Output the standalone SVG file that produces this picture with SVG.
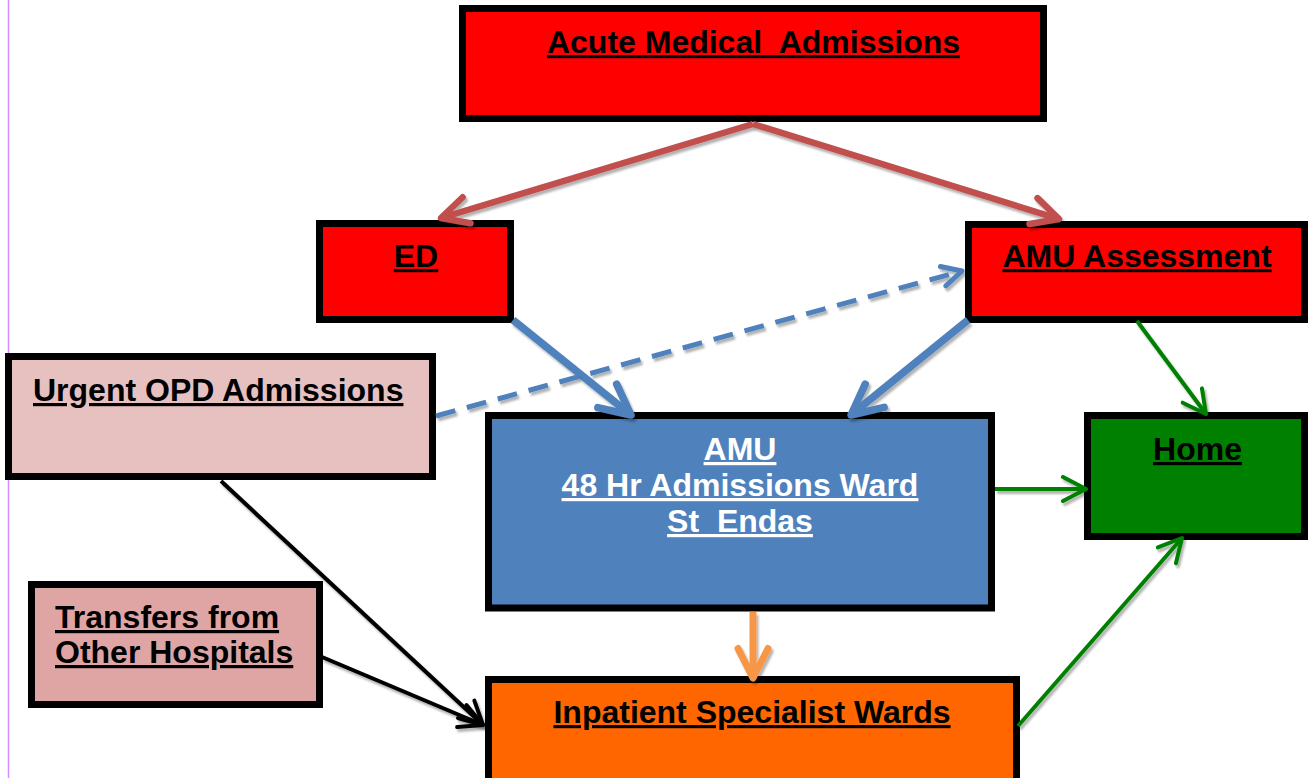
<svg xmlns="http://www.w3.org/2000/svg" width="1309" height="778" viewBox="0 0 1309 778">
  <style>
    .box { stroke: #000; stroke-width: 7; }
    .t { font-family: "Liberation Sans", Arial, sans-serif; font-weight: bold; font-size: 32px; text-decoration: underline; fill: #000; white-space: pre; }
    .tw { fill: #fff; }
    .c { fill: none; filter: url(#sh); }
    .red { stroke: #C0504D; stroke-width: 6.5; marker-end: url(#mRed); }
    .blue { stroke: #4F81BD; stroke-width: 7.5; marker-end: url(#mBlue); }
    .dash { stroke: #4F81BD; stroke-width: 5; stroke-dasharray: 20 12; marker-end: url(#mDash); }
    .green { stroke: #008000; stroke-width: 4; marker-end: url(#mGreen); }
    .black { stroke: #000; stroke-width: 4; marker-end: url(#mBlack); }
    .orange { stroke: #F79646; stroke-width: 7; marker-end: url(#mOrange); }
    .mk { fill: none; stroke-linecap: round; stroke-linejoin: round; }
  </style>
  <defs>
    <filter id="sh" filterUnits="userSpaceOnUse" x="0" y="0" width="1309" height="778">
      <feDropShadow dx="2" dy="3" stdDeviation="1" flood-color="#000" flood-opacity="0.3"/>
    </filter>
    <marker id="mRed" markerUnits="userSpaceOnUse" refX="0" refY="0" markerWidth="1" markerHeight="1" orient="auto" overflow="visible">
      <path class="mk" d="M-26.7,-13.6 L0,0 L-26.7,13.6" stroke="#C0504D" stroke-width="6.5"/>
    </marker>
    <marker id="mBlue" markerUnits="userSpaceOnUse" refX="0" refY="0" markerWidth="1" markerHeight="1" orient="auto" overflow="visible">
      <path class="mk" d="M-30.5,-15 L0,0 L-30.5,15" stroke="#4F81BD" stroke-width="7.5"/>
    </marker>
    <marker id="mDash" markerUnits="userSpaceOnUse" refX="0" refY="0" markerWidth="1" markerHeight="1" orient="auto" overflow="visible">
      <path class="mk" d="M-19.6,-10 L0,0 L-19.6,10" stroke="#4F81BD" stroke-width="5"/>
    </marker>
    <marker id="mGreen" markerUnits="userSpaceOnUse" refX="0" refY="0" markerWidth="1" markerHeight="1" orient="auto" overflow="visible">
      <path class="mk" d="M-23,-12 L0,0 L-23,12" stroke="#008000" stroke-width="4"/>
    </marker>
    <marker id="mBlack" markerUnits="userSpaceOnUse" refX="0" refY="0" markerWidth="1" markerHeight="1" orient="auto" overflow="visible">
      <path class="mk" d="M-23,-12 L0,0 L-23,12" stroke="#000" stroke-width="4"/>
    </marker>
    <marker id="mOrange" markerUnits="userSpaceOnUse" refX="0" refY="0" markerWidth="1" markerHeight="1" orient="auto" overflow="visible">
      <path class="mk" d="M-29.5,-15 L0,0 L-29.5,15" stroke="#F79646" stroke-width="7"/>
    </marker>
  </defs>

  <rect x="0" y="0" width="1309" height="778" fill="#fff"/>
  <line x1="8.5" y1="0" x2="8.5" y2="778" stroke="#D48CFF" stroke-width="1.5"/>

  <g id="acute">
    <rect class="box" x="462.5" y="8.5" width="581" height="110" fill="#FF0000"/>
    <text class="t" x="753.5" y="53" text-anchor="middle">Acute Medical  Admissions</text>
  </g>
  <g id="ed">
    <rect class="box" x="319.5" y="223.5" width="191" height="96" fill="#FF0000"/>
    <text class="t" x="416" y="267" text-anchor="middle">ED</text>
  </g>
  <g id="amu-assessment">
    <rect class="box" x="968.5" y="224.5" width="336" height="95" fill="#FF0000"/>
    <text class="t" x="1137" y="267" text-anchor="middle">AMU Assessment</text>
  </g>
  <g id="urgent-opd">
    <rect class="box" x="8.5" y="356.5" width="424" height="120" fill="#E6C1C0"/>
    <text class="t" x="33" y="401">Urgent OPD Admissions</text>
  </g>
  <g id="amu">
    <rect class="box" x="488.5" y="415.5" width="503" height="192.5" fill="#4F81BD"/>
    <text class="t tw" x="740" y="460" text-anchor="middle">AMU</text>
    <text class="t tw" x="740" y="496" text-anchor="middle">48 Hr Admissions Ward</text>
    <text class="t tw" x="740" y="532" text-anchor="middle">St  Endas</text>
  </g>
  <g id="home">
    <rect class="box" x="1087.5" y="415.5" width="217" height="121" fill="#008000"/>
    <text class="t" x="1197.5" y="460" text-anchor="middle">Home</text>
  </g>
  <g id="transfers">
    <rect class="box" x="31.5" y="584.5" width="288" height="120" fill="#DEA5A4"/>
    <text class="t" x="55" y="628">Transfers from</text>
    <text class="t" x="55" y="663">Other Hospitals</text>
  </g>
  <g id="inpatient">
    <rect class="box" x="488.5" y="679.5" width="528" height="110" fill="#FF6600"/>
    <text class="t" x="752" y="723" text-anchor="middle">Inpatient Specialist Wards</text>
  </g>

  <g id="connectors">
    <line class="c red" x1="753" y1="124" x2="441" y2="218"/>
    <line class="c red" x1="753" y1="124" x2="1059" y2="219"/>
    <line class="c blue" x1="513" y1="320" x2="631" y2="415"/>
    <line class="c blue" x1="968" y1="320" x2="851" y2="415"/>
    <line class="c dash" x1="436" y1="416" x2="962" y2="271"/>
    <line class="c green" x1="1137" y1="321" x2="1206" y2="414"/>
    <line class="c green" x1="995" y1="489" x2="1086" y2="489"/>
    <line class="c green" x1="1018" y1="726" x2="1182" y2="538"/>
    <line class="c orange" x1="753" y1="612" x2="753" y2="678"/>
    <line class="c black" x1="221" y1="481" x2="483" y2="725"/>
    <line class="c black" x1="322" y1="657" x2="483" y2="725"/>
  </g>
</svg>
